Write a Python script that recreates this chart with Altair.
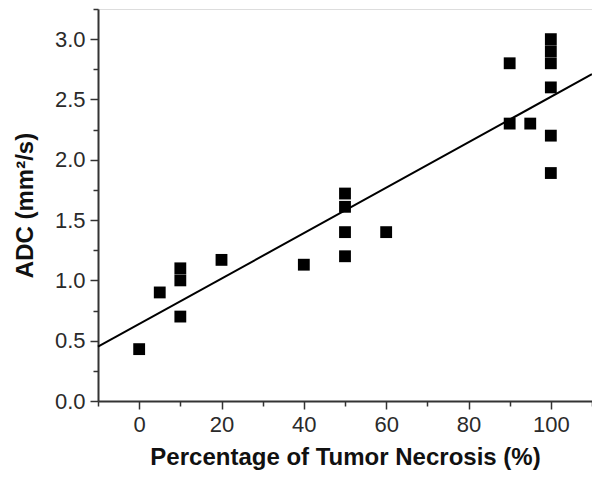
import altair as alt
import pandas as pd

necrosis = [0, 5, 10, 10, 10, 20, 40, 50, 50, 50, 50, 60, 90, 90, 95,
            100, 100, 100, 100, 100, 100]
adc = [0.43, 0.90, 1.10, 1.00, 0.70, 1.17, 1.13, 1.72, 1.61, 1.40, 1.20, 1.40,
       2.80, 2.30, 2.30, 3.00, 2.90, 2.80, 2.60, 2.20, 1.89]

fit_x = [-10, 110]
fit_y = [0.45, 2.71]

x_major = [0, 20, 40, 60, 80, 100]
x_minor = [-10, 10, 30, 50, 70, 90, 110]
y_major = [0.0, 0.5, 1.0, 1.5, 2.0, 2.5, 3.0]
y_minor = [0.25, 0.75, 1.25, 1.75, 2.25, 2.75, 3.25]

pts = pd.DataFrame({"x": necrosis, "y": adc})
fit = pd.DataFrame({"x": fit_x, "y": fit_y})

xs = alt.Scale(domain=[-10, 110], nice=False, zero=False)
ys = alt.Scale(domain=[0, 3.25], nice=False, zero=False)

dom_color = "#333333"

points = alt.Chart(pts).mark_square(size=140, color="black", opacity=1).encode(
    x=alt.X("x:Q", scale=xs, axis=alt.Axis(
        values=x_major, tickSize=8, tickWidth=1.5, tickColor=dom_color,
        domainColor=dom_color, domainWidth=2, grid=False,
        labelFont="Liberation Sans", labelFontSize=22, labelColor="#2a2a2a",
        labelPadding=5, title="Percentage of Tumor Necrosis (%)",
        titleFont="Liberation Sans", titleFontSize=24, titleFontWeight="bold",
        titleColor="#111111", titlePadding=10, orient="bottom")),
    y=alt.Y("y:Q", scale=ys, axis=alt.Axis(
        values=y_major, format=".1f", tickSize=8, tickWidth=1.5, tickColor=dom_color,
        domainColor=dom_color, domainWidth=2, grid=False,
        labelFont="Liberation Sans", labelFontSize=22, labelColor="#2a2a2a",
        labelPadding=5, title="ADC (mm²/s)",
        titleFont="Liberation Sans", titleFontSize=24, titleFontWeight="bold",
        titleColor="#111111", titlePadding=17, orient="left")),
)

line = alt.Chart(fit).mark_line(color="black", strokeWidth=2).encode(
    x=alt.X("x:Q", scale=xs, axis=alt.Axis(
        values=x_minor, tickSize=5, tickWidth=1.5, tickColor=dom_color,
        labels=False, domain=False, grid=False, title=None, orient="bottom")),
    y=alt.Y("y:Q", scale=ys, axis=alt.Axis(
        values=y_minor, tickSize=5, tickWidth=1.5, tickColor=dom_color,
        labels=False, domain=False, grid=False, title=None, orient="left")),
)

chart = alt.layer(line, points).resolve_axis(x="independent", y="independent").properties(
    width=494, height=392,
    padding={"left": 90, "top": 1, "right": 0, "bottom": 75},
    autosize="none",
).configure_view(stroke=None).configure(background="white")

chart.save("out.html", embed_options={"renderer": "svg", "actions": False})
